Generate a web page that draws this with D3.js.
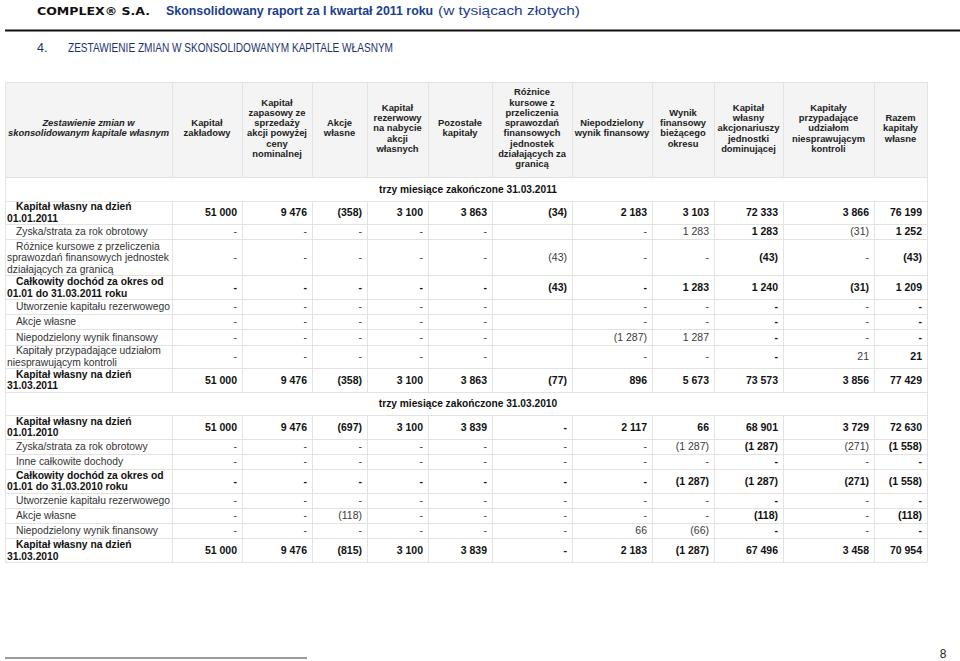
<!DOCTYPE html>
<html>
<head>
<meta charset="utf-8">
<script src="https://cdn.jsdelivr.net/npm/d3@7"></script>
<style>
  body { margin: 0; background: #fff; }
  svg { display: block; font-family: "Liberation Sans", Arial, sans-serif; }
</style>
</head>
<body>
<div id="container"></div>
<script>
/* DATA */
const columnHeaders = [
  ["Zestawienie zmian w", "skonsolidowanym kapitale własnym"],
  ["Kapitał", "zakładowy"],
  ["Kapitał", "zapasowy ze", "sprzedaży", "akcji powyżej", "ceny", "nominalnej"],
  ["Akcje", "własne"],
  ["Kapitał", "rezerwowy", "na nabycie", "akcji", "własnych"],
  ["Pozostałe", "kapitały"],
  ["Różnice", "kursowe z", "przeliczenia", "sprawozdań", "finansowych", "jednostek", "działających za", "granicą"],
  ["Niepodzielony", "wynik finansowy"],
  ["Wynik", "finansowy", "bieżącego", "okresu"],
  ["Kapitał", "własny", "akcjonariuszy", "jednostki", "dominującej"],
  ["Kapitały", "przypadające", "udziałom", "niesprawującym", "kontroli"],
  ["Razem", "kapitały", "własne"]
];

const sectionTitles = ["trzy miesiące zakończone 31.03.2011", "trzy miesiące zakończone 31.03.2010"];

const rowLabels2011 = [
  ["Kapitał własny na dzień", "01.01.2011"],
  ["Zyska/strata za rok obrotowy"],
  ["Różnice kursowe z przeliczenia", "sprawozdań finansowych jednostek", "działających za granicą"],
  ["Całkowity dochód za okres od", "01.01 do 31.03.2011 roku"],
  ["Utworzenie kapitału rezerwowego"],
  ["Akcje własne"],
  ["Niepodzielony wynik finansowy"],
  ["Kapitały przypadające udziałom", "niesprawującym kontroli"],
  ["Kapitał własny na dzień", "31.03.2011"]
];
const boldRows2011 = [true, false, false, true, false, false, false, false, true];
// null = empty cell, 0 = "-"
const values2011 = [
  [51000, 9476, -358, 3100, 3863, -34, 2183, 3103, 72333, 3866, 76199],
  [0, 0, 0, 0, 0, null, 0, 1283, 1283, -31, 1252],
  [0, 0, 0, 0, 0, -43, 0, 0, -43, 0, -43],
  [0, 0, 0, 0, 0, -43, 0, 1283, 1240, -31, 1209],
  [0, 0, 0, 0, 0, null, 0, 0, 0, 0, 0],
  [0, 0, 0, 0, 0, null, 0, 0, 0, 0, 0],
  [0, 0, 0, 0, 0, null, -1287, 1287, 0, 0, 0],
  [0, 0, 0, 0, 0, null, 0, 0, 0, 21, 21],
  [51000, 9476, -358, 3100, 3863, -77, 896, 5673, 73573, 3856, 77429]
];

const rowLabels2010 = [
  ["Kapitał własny na dzień", "01.01.2010"],
  ["Zyska/strata za rok obrotowy"],
  ["Inne całkowite dochody"],
  ["Całkowity dochód za okres od", "01.01 do 31.03.2010 roku"],
  ["Utworzenie kapitału rezerwowego"],
  ["Akcje własne"],
  ["Niepodzielony wynik finansowy"],
  ["Kapitał własny na dzień", "31.03.2010"]
];
const boldRows2010 = [true, false, false, true, false, false, false, true];
const values2010 = [
  [51000, 9476, -697, 3100, 3839, 0, 2117, 66, 68901, 3729, 72630],
  [0, 0, 0, 0, 0, 0, 0, -1287, -1287, -271, -1558],
  [0, 0, 0, 0, 0, 0, 0, 0, 0, 0, 0],
  [0, 0, 0, 0, 0, 0, 0, -1287, -1287, -271, -1558],
  [0, 0, 0, 0, 0, 0, 0, 0, 0, 0, 0],
  [0, 0, -118, 0, 0, 0, 0, 0, -118, 0, -118],
  [0, 0, 0, 0, 0, 0, 66, -66, 0, 0, 0],
  [51000, 9476, -815, 3100, 3839, 0, 2183, -1287, 67496, 3458, 70954]
];

const boldColumns = [8, 10]; // Kapitał własny akcjonariuszy, Razem

/* LAYOUT */
const width = 960, height = 661;
const tableLeft = 5, headerTop = 82, headerHeight = 95;
const colWidths = [167, 70, 70, 55, 61, 64, 80, 80, 62, 69, 91, 53];
const colEdges = [tableLeft, ...d3.cumsum(colWidths).map(d => d + tableLeft)];
const tableRight = colEdges[colEdges.length - 1];
const rowHeight = n => n === 1 ? 15.25 : n === 2 ? 23.5 : 36;
const gridColor = "#e3e3e3";

const pl = d3.formatLocale({ decimal: ",", thousands: " ", grouping: [3], currency: ["", ""] });
const fmtInt = pl.format(",d");
const fmt = v => v === null ? "" : v === 0 ? "-" : v < 0 ? `(${fmtInt(-v)})` : fmtInt(v);

// flatten to one list of rows
const rows = [];
[[sectionTitles[0], rowLabels2011, boldRows2011, values2011],
 [sectionTitles[1], rowLabels2010, boldRows2010, values2010]].forEach(([title, labels, bolds, vals]) => {
  rows.push({ type: "section", text: title, h: 23.5 });
  labels.forEach((l, i) => rows.push({ type: "data", label: l, bold: bolds[i], values: vals[i], h: rowHeight(l.length) }));
});
let yy = headerTop + headerHeight;
rows.forEach(r => { r.y = yy; yy += r.h; });
const tableBottom = yy;

const svg = d3.select("#container")
  .append("svg")
  .attr("width", width)
  .attr("height", height);

/* PAGE HEADER */
svg.append("text")
  .attr("x", 37).attr("y", 14.5)
  .attr("font-family", "DejaVu Sans")
  .attr("font-weight", 900)
  .attr("font-size", 10.5)
  .attr("textLength", 113)
  .attr("lengthAdjust", "spacingAndGlyphs")
  .attr("fill", "#111")
  .text("COMPLEX® S.A.");

svg.append("text")
  .attr("x", 166).attr("y", 14.5)
  .attr("font-size", 12.4)
  .attr("font-weight", "bold")
  .attr("fill", "#1b3d8f")
  .text("Skonsolidowany raport za I kwartał 2011 roku");
svg.append("text")
  .attr("x", 438).attr("y", 14.5)
  .attr("font-size", 13)
  .attr("textLength", 142)
  .attr("lengthAdjust", "spacingAndGlyphs")
  .attr("fill", "#1b3d8f")
  .text("(w tysiącach złotych)");

svg.append("line")
  .attr("x1", 5).attr("x2", width)
  .attr("y1", 30.5).attr("y2", 30.5)
  .attr("stroke", "#111").attr("stroke-width", 2);

svg.append("text")
  .attr("x", 37).attr("y", 52)
  .attr("font-size", 12.5)
  .attr("fill", "#1c3270")
  .text("4.");
svg.append("text")
  .attr("x", 68).attr("y", 52)
  .attr("font-size", 12.5)
  .attr("textLength", 325)
  .attr("lengthAdjust", "spacingAndGlyphs")
  .attr("fill", "#1c3270")
  .text("ZESTAWIENIE ZMIAN W SKONSOLIDOWANYM KAPITALE WŁASNYM");

/* TABLE HEADER */
svg.append("rect")
  .attr("x", tableLeft).attr("y", headerTop)
  .attr("width", tableRight - tableLeft).attr("height", headerHeight)
  .attr("fill", "#f4f4f4");

const headerMid = headerTop + headerHeight / 2 - 1.5;
const headerLh = 10.3;
svg.selectAll("text.colhead")
  .data(columnHeaders)
  .join("text")
  .attr("class", "colhead")
  .attr("text-anchor", "middle")
  .attr("font-size", 9.4)
  .attr("font-weight", "bold")
  .attr("font-style", (d, i) => i === 0 ? "italic" : "normal")
  .attr("fill", "#222")
  .each(function (lines, i) {
    const cx = (colEdges[i] + colEdges[i + 1]) / 2;
    d3.select(this).selectAll("tspan")
      .data(lines)
      .join("tspan")
      .attr("x", cx)
      .attr("y", (l, j) => headerMid + (j - (lines.length - 1) / 2) * headerLh + 3.3)
      .text(l => l);
  });

/* GRID */
const grid = svg.append("g").attr("stroke", gridColor).attr("stroke-width", 1);
// horizontal lines
grid.selectAll("line.h")
  .data([headerTop, ...rows.map(r => r.y), tableBottom])
  .join("line")
  .attr("class", "h")
  .attr("x1", tableLeft).attr("x2", tableRight)
  .attr("y1", d => Math.round(d) + 0.5).attr("y2", d => Math.round(d) + 0.5);
// header verticals
grid.selectAll("line.hv")
  .data(colEdges)
  .join("line")
  .attr("class", "hv")
  .attr("x1", d => d + 0.5).attr("x2", d => d + 0.5)
  .attr("y1", headerTop).attr("y2", headerTop + headerHeight);
// row verticals
rows.forEach(r => {
  const edges = r.type === "section" ? [tableLeft, tableRight] : colEdges;
  grid.append("g").selectAll("line")
    .data(edges)
    .join("line")
    .attr("x1", d => d + 0.5).attr("x2", d => d + 0.5)
    .attr("y1", Math.round(r.y)).attr("y2", Math.round(r.y + r.h));
});

/* SECTION TITLES */
svg.selectAll("text.section")
  .data(rows.filter(r => r.type === "section"))
  .join("text")
  .attr("class", "section")
  .attr("x", 468).attr("y", r => r.y + r.h / 2 + 4)
  .attr("text-anchor", "middle")
  .attr("font-size", 10.2)
  .attr("font-weight", "bold")
  .attr("fill", "#111")
  .text(r => r.text);

/* ROW LABELS */
const labelLh = 11.5;
const dataRows = rows.filter(r => r.type === "data");
svg.selectAll("text.rowlabel")
  .data(dataRows)
  .join("text")
  .attr("class", "rowlabel")
  .attr("font-size", 10.3)
  .attr("font-weight", r => r.bold ? "bold" : "normal")
  .attr("fill", r => r.bold ? "#111" : "#333")
  .each(function (r) {
    const mid = r.y + r.h / 2;
    d3.select(this).selectAll("tspan")
      .data(r.label)
      .join("tspan")
      .attr("x", (l, j) => j === 0 ? tableLeft + 11 : tableLeft + 2)
      .attr("y", (l, j) => mid + (j - (r.label.length - 1) / 2) * labelLh + 3.8)
      .text(l => l);
  });

/* VALUES */
const cells = dataRows.flatMap(r => r.values.map((v, c) => ({ v, c: c + 1, row: r })));
const isBold = d => d.row.bold || boldColumns.includes(d.c - 1);
svg.selectAll("text.val")
  .data(cells)
  .join("text")
  .attr("class", "val")
  .attr("x", d => colEdges[d.c + 1] - 5)
  .attr("y", d => d.row.y + d.row.h / 2 + 3.8)
  .attr("text-anchor", "end")
  .attr("font-size", 10.5)
  .attr("font-weight", d => isBold(d) ? "bold" : "normal")
  .attr("fill", d => isBold(d) ? "#111" : "#3a3a3a")
  .text(d => fmt(d.v));

/* FOOTER */
svg.append("line")
  .attr("x1", 5).attr("x2", 307)
  .attr("y1", 658).attr("y2", 658)
  .attr("stroke", "#9a9a9a").attr("stroke-width", 2);

svg.append("text")
  .attr("x", 943).attr("y", 658)
  .attr("text-anchor", "middle")
  .attr("font-size", 12)
  .attr("fill", "#222")
  .text("8");
</script>
</body>
</html>
